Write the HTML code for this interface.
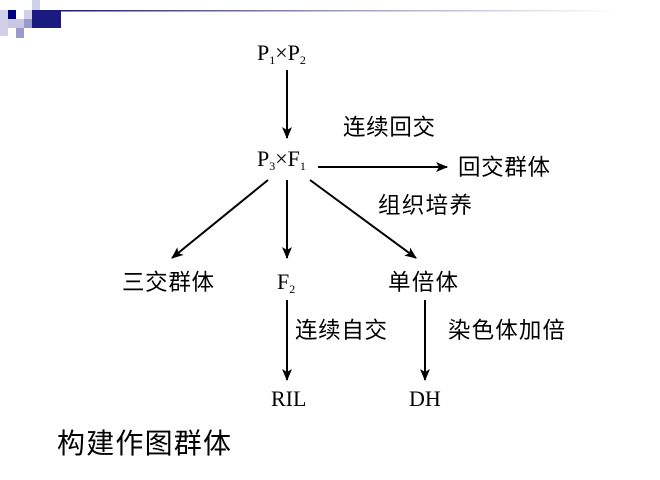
<!DOCTYPE html>
<html><head><meta charset="utf-8"><style>
html,body{margin:0;padding:0;background:#fff;width:660px;height:480px;overflow:hidden}
</style></head><body>
<svg width="660" height="480" xmlns="http://www.w3.org/2000/svg">
<defs>
<linearGradient id="g" x1="0" x2="1" y1="0" y2="0">
<stop offset="0" stop-color="#1a1a80"/><stop offset="0.5" stop-color="#9a9ac8"/><stop offset="1" stop-color="#ffffff"/>
</linearGradient>
<marker id="a" markerWidth="12" markerHeight="10" refX="11" refY="5" orient="auto" markerUnits="userSpaceOnUse">
<path d="M0,0 L12,5 L0,10 L3,5 z" fill="#000"/>
</marker>
</defs>
<rect x="0" y="10" width="8" height="26" fill="#d0d0e8"/>
<rect x="8" y="10" width="8" height="9" fill="#000080"/>
<rect x="8" y="19" width="16" height="9" fill="#c8c8e4"/>
<rect x="16" y="28" width="8" height="10" fill="#9a9acc"/>
<rect x="24" y="10" width="8" height="9" fill="#d0d0e8"/>
<rect x="32" y="0" width="8" height="10" fill="#d0d0e8"/>
<rect x="24" y="19" width="8" height="9" fill="#9a9acc"/>
<rect x="32" y="10" width="29" height="18" fill="#1a1a80"/>
<rect x="61" y="10" width="560" height="1.5" fill="url(#g)"/>
<g fill="#000" font-family="Liberation Serif, serif" font-size="22">
<text x="257" y="60">P<tspan font-size="12" dy="4">1</tspan><tspan dy="-4">×P</tspan><tspan font-size="12" dy="4">2</tspan></text>
<text x="257" y="166">P<tspan font-size="12" dy="4">3</tspan><tspan dy="-4">×F</tspan><tspan font-size="12" dy="4">1</tspan></text>
<text x="277" y="289">F<tspan font-size="12" dy="4">2</tspan></text>
<text x="271" y="406">RIL</text>
<text x="409" y="406">DH</text>
</g>
<g fill="#000" font-family="Liberation Sans, Noto Sans CJK SC, sans-serif" font-size="22.5">
<text x="343" y="135" textLength="92">连续回交</text>
<text x="458" y="175" textLength="92">回交群体</text>
<text x="378" y="213" textLength="94">组织培养</text>
<text x="122" y="290" textLength="92">三交群体</text>
<text x="388" y="290" textLength="70">单倍体</text>
<text x="295" y="338" textLength="92">连续自交</text>
<text x="448" y="338" textLength="117">染色体加倍</text>
<text x="57" y="453" font-size="28" textLength="174">构建作图群体</text>
</g>
<g stroke="#000" stroke-width="2" marker-end="url(#a)">
<line x1="287" y1="70" x2="287" y2="138"/>
<line x1="318" y1="167" x2="447" y2="167"/>
<line x1="268" y1="180" x2="172" y2="258"/>
<line x1="287" y1="180" x2="287" y2="258"/>
<line x1="310" y1="180" x2="416" y2="258"/>
<line x1="287" y1="300" x2="287" y2="380"/>
<line x1="425" y1="300" x2="425" y2="380"/>
</g>
</svg>
</body></html>
